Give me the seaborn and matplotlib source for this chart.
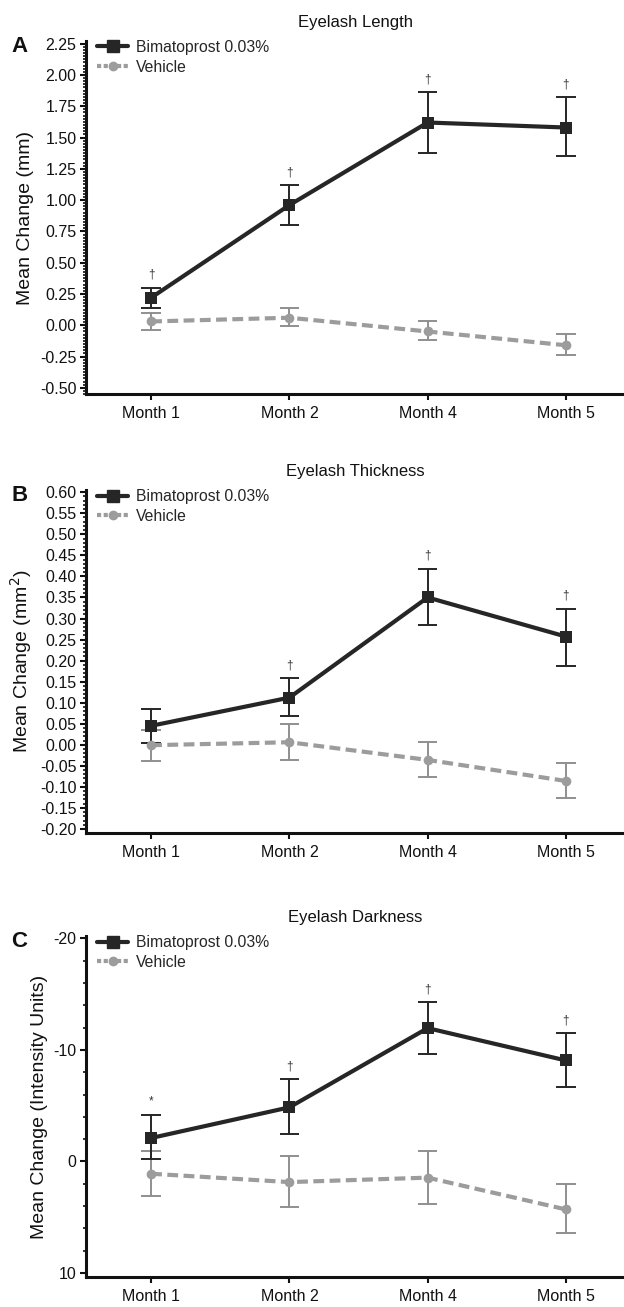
import numpy as np
import pandas as pd
import matplotlib
matplotlib.use("Agg")
import matplotlib.pyplot as plt
from matplotlib.ticker import MultipleLocator
from matplotlib.lines import Line2D
import seaborn as sns

sns.set_theme(style="ticks")
plt.rcParams['font.family'] = ['Liberation Sans', 'DejaVu Sans']

months = ["Month 1", "Month 2", "Month 4", "Month 5"]
series_names = ["Bimatoprost 0.03%", "Vehicle"]

# Panel A: Eyelash Length (mm)
len_bim = [0.22, 0.96, 1.62, 1.58]
len_bim_lo = [0.14, 0.80, 1.38, 1.35]
len_bim_hi = [0.30, 1.12, 1.86, 1.82]
len_veh = [0.03, 0.06, -0.05, -0.16]
len_veh_lo = [-0.04, -0.01, -0.12, -0.24]
len_veh_hi = [0.10, 0.14, 0.03, -0.07]
len_marks = ["†", "†", "†", "†"]

# Panel B: Eyelash Thickness (mm^2)
thk_bim = [0.045, 0.112, 0.350, 0.257]
thk_bim_lo = [0.005, 0.068, 0.285, 0.187]
thk_bim_hi = [0.085, 0.158, 0.418, 0.323]
thk_veh = [-0.001, 0.006, -0.036, -0.086]
thk_veh_lo = [-0.038, -0.037, -0.077, -0.127]
thk_veh_hi = [0.035, 0.049, 0.007, -0.044]
thk_marks = ["", "†", "†", "†"]

# Panel C: Eyelash Darkness (intensity units)
drk_bim = [-2.1, -4.85, -11.95, -9.05]
drk_bim_lo = [-4.2, -7.35, -14.25, -11.5]
drk_bim_hi = [-0.25, -2.45, -9.6, -6.7]
drk_veh = [1.1, 1.85, 1.45, 4.3]
drk_veh_lo = [-0.9, -0.45, -0.9, 2.0]
drk_veh_hi = [3.1, 4.1, 3.8, 6.45]
drk_marks = ["*", "†", "†", "†"]

panels = [
    dict(letter="A", title="Eyelash Length", ylabel="Mean Change (mm)",
         bim=len_bim, blo=len_bim_lo, bhi=len_bim_hi,
         veh=len_veh, vlo=len_veh_lo, vhi=len_veh_hi, marks=len_marks,
         ylim=(-0.55, 2.27), major=0.25, minor=0.025, fmt="{:.2f}",
         rect=[0.138, 0.6985, 0.862, 0.2700]),
    dict(letter="B", title="Eyelash Thickness", ylabel="Mean Change (mm$^2$)",
         bim=thk_bim, blo=thk_bim_lo, bhi=thk_bim_hi,
         veh=thk_veh, vlo=thk_veh_lo, vhi=thk_veh_hi, marks=thk_marks,
         ylim=(-0.2095, 0.605), major=0.05, minor=0.01, fmt="{:.2f}",
         rect=[0.138, 0.3627, 0.862, 0.2623]),
    dict(letter="C", title="Eyelash Darkness", ylabel="Mean Change (Intensity Units)",
         bim=drk_bim, blo=drk_bim_lo, bhi=drk_bim_hi,
         veh=drk_veh, vlo=drk_veh_lo, vhi=drk_veh_hi, marks=drk_marks,
         ylim=(10.35, -20.2), major=10, minor=2, fmt="{:.0f}",
         rect=[0.138, 0.0230, 0.862, 0.2608]),
]

bim_color = "#262626"
veh_color = "#9c9c9c"
veh_err_color = "#8f8f8f"

fig = plt.figure(figsize=(6.24, 13.07), dpi=100)

for p in panels:
    ax = fig.add_axes(p["rect"])
    rows = []
    for i, m in enumerate(months):
        rows.append(dict(Month=m, x=i, Series=series_names[0], Value=p["bim"][i],
                         lo=p["blo"][i], hi=p["bhi"][i]))
        rows.append(dict(Month=m, x=i, Series=series_names[1], Value=p["veh"][i],
                         lo=p["vlo"][i], hi=p["vhi"][i]))
    df = pd.DataFrame(rows)

    # error bars
    for name, col, z in [(series_names[1], veh_err_color, 2), (series_names[0], bim_color, 3)]:
        d = df[df.Series == name]
        lw = 1.4
        ax.vlines(d.x, d.lo, d.hi, color=col, lw=lw, zorder=z)
        ax.hlines(d.lo, d.x - 0.07, d.x + 0.07, color=col, lw=lw, zorder=z)
        ax.hlines(d.hi, d.x - 0.07, d.x + 0.07, color=col, lw=lw, zorder=z)

    sns.lineplot(data=df, x="x", y="Value", hue="Series", style="Series",
                 hue_order=series_names, style_order=series_names,
                 palette={series_names[0]: bim_color, series_names[1]: veh_color},
                 dashes={series_names[0]: "", series_names[1]: (2.6, 1.3)},
                 markers={series_names[0]: "s", series_names[1]: "o"},
                 markersize=9, linewidth=3, markeredgewidth=0,
                 ax=ax, legend=False, zorder=4)
    for ln in ax.get_lines():
        if ln.get_marker() == "o":
            ln.set_markersize(7)

    # significance marks
    inverted = p["ylim"][0] > p["ylim"][1]
    for i, mk in enumerate(p["marks"]):
        if mk:
            top = min(p["bhi"][i], p["blo"][i]) if inverted else max(p["bhi"][i], p["blo"][i])
            ax.annotate(mk, xy=(i, top), xytext=(0, 5), textcoords="offset points",
                        ha="center", va="bottom", fontsize=8.5, color="#333333")

    ax.set_xlim(-0.47, 3.42)
    ax.set_ylim(*p["ylim"])
    ax.set_xticks(range(len(months)))
    ax.set_xticklabels(months)
    ax.yaxis.set_minor_locator(MultipleLocator(p["minor"]))
    ticks = [t for t in np.arange(-30, 30, p["major"])
             if min(p["ylim"]) - 1e-9 <= t <= max(p["ylim"]) + 1e-9]
    ax.set_yticks(ticks)
    ax.set_yticklabels([p["fmt"].format(0.0 if abs(t) < 1e-9 else t) for t in ticks])
    ax.set_xlabel("")
    ax.set_ylabel(p["ylabel"], fontsize=14, color="#111111", labelpad=4)
    ax.tick_params(axis="both", labelsize=11.5, colors="#111111", width=1.5, length=4.5,
                   direction="out", pad=2.5)
    ax.tick_params(axis="y", which="minor", width=1.2, length=2.5, color="#111111")
    ax.tick_params(axis="x", pad=4)
    for s in ["top", "right"]:
        ax.spines[s].set_visible(False)
    for s in ["left", "bottom"]:
        ax.spines[s].set_linewidth(2.2)
        ax.spines[s].set_color("#111111")

    ax.set_title(p["title"], fontsize=12, color="#111111", pad=10)
    fig.text(0.018, p["rect"][1] + p["rect"][3] - 0.004, p["letter"], fontsize=16,
             fontweight="bold", va="center", ha="left", color="#111111")

    handles = [Line2D([], [], color=bim_color, lw=3, marker="s", markersize=8),
               Line2D([], [], color=veh_color, lw=3, ls=(0, (1.0, 0.6)), marker="o", markersize=6)]
    ax.legend(handles, series_names, loc="upper left", bbox_to_anchor=(0.0, 1.035),
              frameon=False, fontsize=11.3, handlelength=2.0, handletextpad=0.5,
              labelspacing=0.3, borderaxespad=0.3)

fig.savefig("out.png", dpi=100)
